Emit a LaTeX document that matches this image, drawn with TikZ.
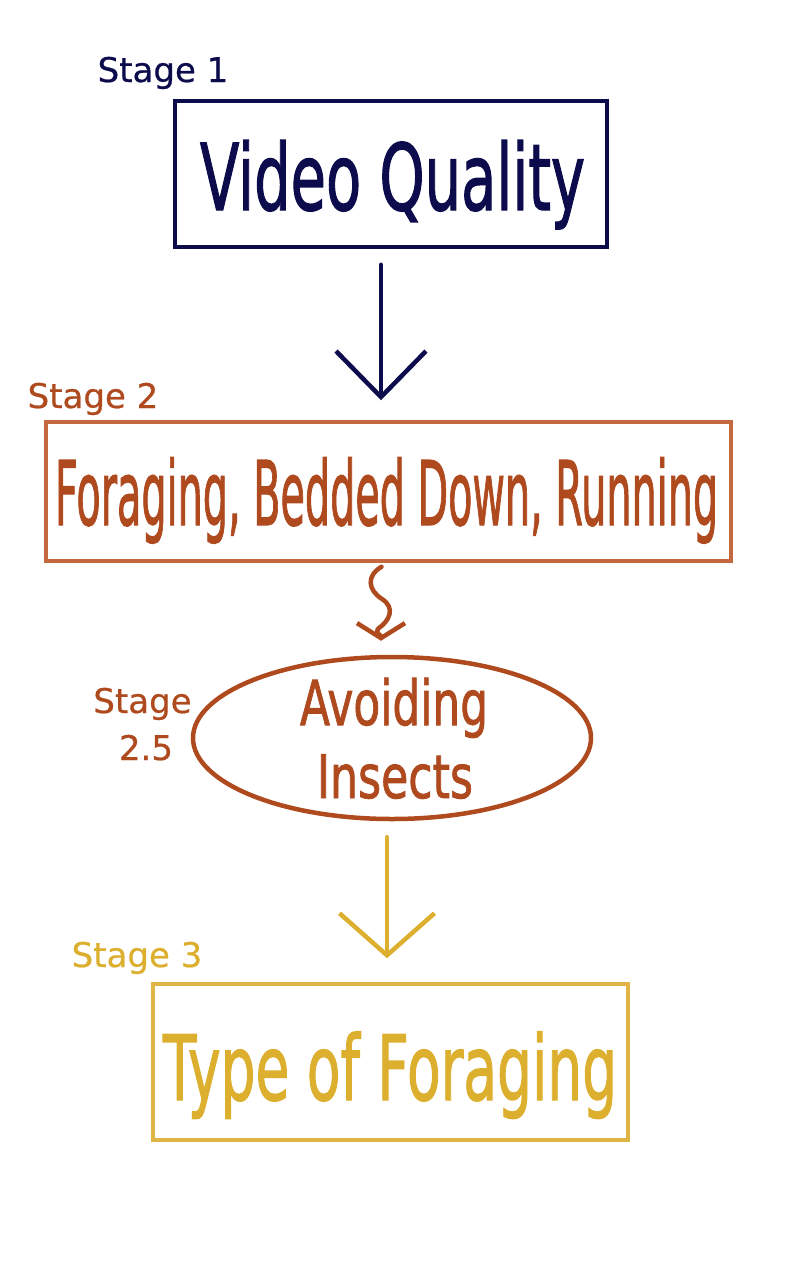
\documentclass[tikz,border=0pt]{standalone}
\usepackage{fontspec}
\setmainfont{DejaVu Sans}
\newfontfamily\heavyfont[FakeBold=1.6]{DejaVu Sans}
\newfontfamily\midfont[FakeBold=0.6]{DejaVu Sans}
\usepackage{graphicx}
\usetikzlibrary{arrows.meta,shapes.geometric}
\definecolor{navy}{HTML}{0C0B4C}
\definecolor{rust}{HTML}{AF4A1F}
\definecolor{rustbox}{HTML}{C4683F}
\definecolor{gold}{HTML}{DCAF2F}
\definecolor{goldbox}{HTML}{E0B545}
\tikzset{
  boxshape/.style={draw, rectangle, inner sep=0pt, line width=3.5pt},
  stagelbl/.style={anchor=base, inner sep=0pt, font=\midfont\fontsize{34}{34}\selectfont},
  bigtxt/.style={anchor=base, inner sep=0pt, font=\heavyfont},
  conn/.style={line width=4.5pt, line cap=round, line join=round},
}
\begin{document}
\begin{tikzpicture}[x=1pt,y=-1pt]
\useasboundingbox (0,0) rectangle (800,1262);
% Stage 1
\node[stagelbl, text=navy] (s1) at (163,82) {Stage 1};
\node[boxshape, draw=navy, minimum width=432pt, minimum height=146pt] (b1) at (391,174) {};
\node[bigtxt, text=navy] (t1) at (392.5,210) {\resizebox{385pt}{\height}{\fontsize{92}{92}\selectfont Video Quality}};
% Stage 2
\node[stagelbl, text=rust] (s2) at (93,408) {Stage 2};
\node[boxshape, draw=rustbox, minimum width=685pt, minimum height=139pt] (b2) at (388.5,491.5) {};
\node[bigtxt, text=rust] (t2) at (386.5,525) {\resizebox{663pt}{\height}{\fontsize{89}{89}\selectfont Foraging, Bedded Down, Running}};
% Stage 2.5
\node[stagelbl, text=rust] (s25a) at (142.5,713) {Stage};
\node[stagelbl, text=rust] (s25b) at (146,760) {2.5};
\node[draw=rust, ellipse, line width=4.5pt, inner sep=0pt, minimum width=398pt, minimum height=162pt] (ell) at (392,738) {};
\node[bigtxt, text=rust] (ta) at (394,725) {\resizebox{188pt}{\height}{\fontsize{62}{62}\selectfont Avoiding}};
\node[bigtxt, text=rust] (tb) at (395,798) {\resizebox{156pt}{\height}{\fontsize{60}{60}\selectfont Insects}};
% Stage 3
\node[stagelbl, text=gold] (s3) at (137,967) {Stage 3};
\node[boxshape, draw=goldbox, minimum width=475pt, minimum height=156pt] (b3) at (390.5,1062) {};
\node[bigtxt, text=gold] (t3) at (390,1100) {\resizebox{454pt}{\height}{\fontsize{90}{90}\selectfont Type of Foraging}};
% connectors
\draw[conn, navy, -{Straight Barb[length=46pt,width=90pt]}]
  ([xshift=-10pt,yshift=-16pt]b1.south) -- ([xshift=-7.5pt,yshift=20pt]b2.north);
\draw[conn, rust, -{Straight Barb[length=15pt,width=48pt]}]
  ([xshift=-7pt,yshift=-4pt]b2.south) .. controls (366,576) and (368,590) .. (382,599)
  .. controls (396,608) and (389,621) .. (379,628)
  .. controls (374,632) and (381,636) .. ([xshift=-11pt,yshift=14pt]ell.north);
\draw[conn, gold, -{Straight Barb[length=42pt,width=95pt]}]
  ([xshift=-5pt,yshift=-16pt]ell.south) -- ([xshift=-3.5pt,yshift=24pt]b3.north);
\end{tikzpicture}
\end{document}
